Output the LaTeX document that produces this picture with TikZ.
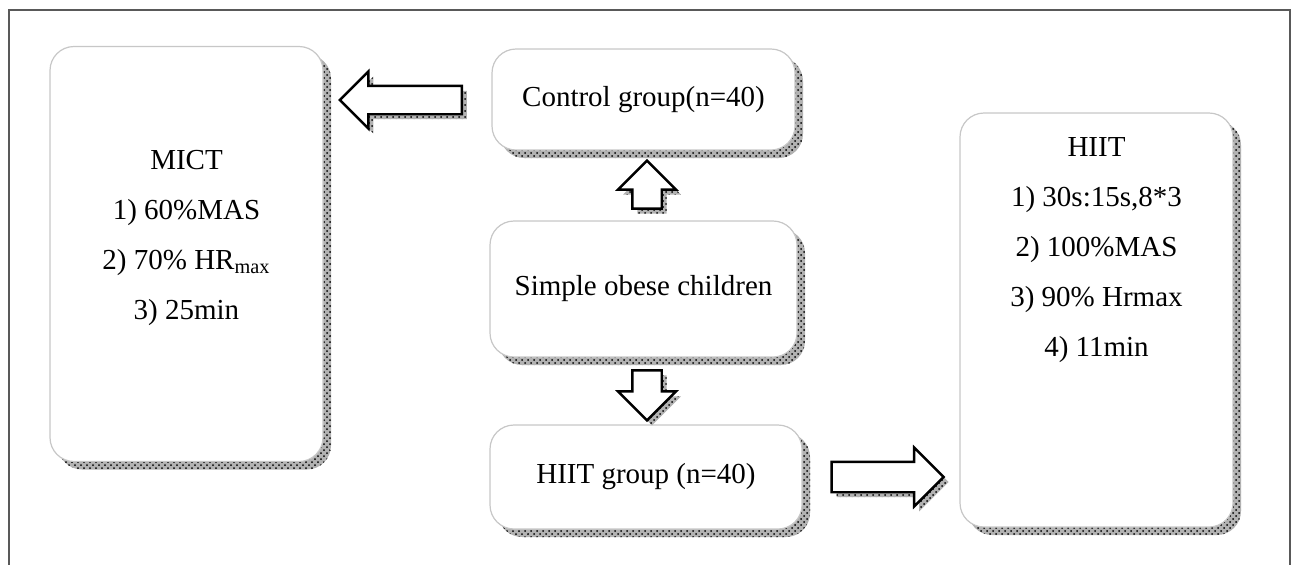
\documentclass[tikz,border=0pt]{standalone}
\usepackage{fontspec}
\setmainfont{Liberation Serif}
\usetikzlibrary{shapes.arrows,shadows,patterns}
\tikzset{
  shadowband/.style={
    drop shadow={shadow xshift=#1,shadow yshift=-#1,opacity=1,fill=black!30},
    drop shadow={shadow xshift=#1,shadow yshift=-#1,opacity=1,pattern=crosshatch dots,pattern color=black}},
  box/.style={draw=black!22, line width=0.6pt, fill=white, rounded corners=12pt,
    inner sep=0pt, shadowband=4pt, font=\fontsize{14.5}{17}\selectfont},
  txt/.style={align=center, font=\fontsize{14.5}{25}\selectfont},
  blockarrow/.style={single arrow, draw=black, line width=1.2pt, fill=white,
    single arrow tip angle=90, single arrow head indent=0pt,
    shadowband=2.5pt},
  frameline/.style={draw=black!65, line width=1pt}
}
\begin{document}
\begin{tikzpicture}[x=0.5pt,y=-0.5pt]
\useasboundingbox (0,0) rectangle (1292,564);
\draw[frameline] (9,570) -- (9,10) -- (1290,10) -- (1290,570);

\node[box, minimum width=136.5pt, minimum height=207.5pt] (mict) at (186.5,254) {};
\node[txt] (mictt) at (186.5,238) {MICT\\1) 60\%MAS\\2) 70\% HR\textsubscript{max}\\3) 25min};

\node[box, minimum width=151.5pt, minimum height=50.5pt] (ctrl) at (643.5,99.5) {Control group(n=40)};
\node[box, minimum width=153.5pt, minimum height=68pt] (simple) at (643.5,289) {Simple obese children};
\node[box, minimum width=156pt, minimum height=52pt] (hgroup) at (646,477) {HIIT group (n=40)};

\node[box, minimum width=136.5pt, minimum height=207pt] (hiit) at (1096.5,320) {};
\node[txt] (hiitt) at (1096.5,250) {HIIT\\1) 30s:15s,8*3\\2) 100\%MAS\\3) 90\% Hrmax\\4) 11min};

\node[blockarrow, shape border rotate=180, minimum height=61pt, minimum width=27.5pt, inner xsep=0pt, inner ysep=6.5pt] (a1) at (408,100) {};
\node[blockarrow, shape border rotate=90, minimum height=24pt, minimum width=28.5pt, inner ysep=0pt, inner xsep=6.75pt] (a2) at (647,192) {};
\node[blockarrow, shape border rotate=270, minimum height=25pt, minimum width=28.5pt, inner ysep=0pt, inner xsep=6.75pt] (a3) at (647,388) {};
\node[blockarrow, minimum height=56pt, minimum width=25.5pt, inner xsep=0pt, inner ysep=7pt] (a4) at (880,477) {};
\end{tikzpicture}
\end{document}
